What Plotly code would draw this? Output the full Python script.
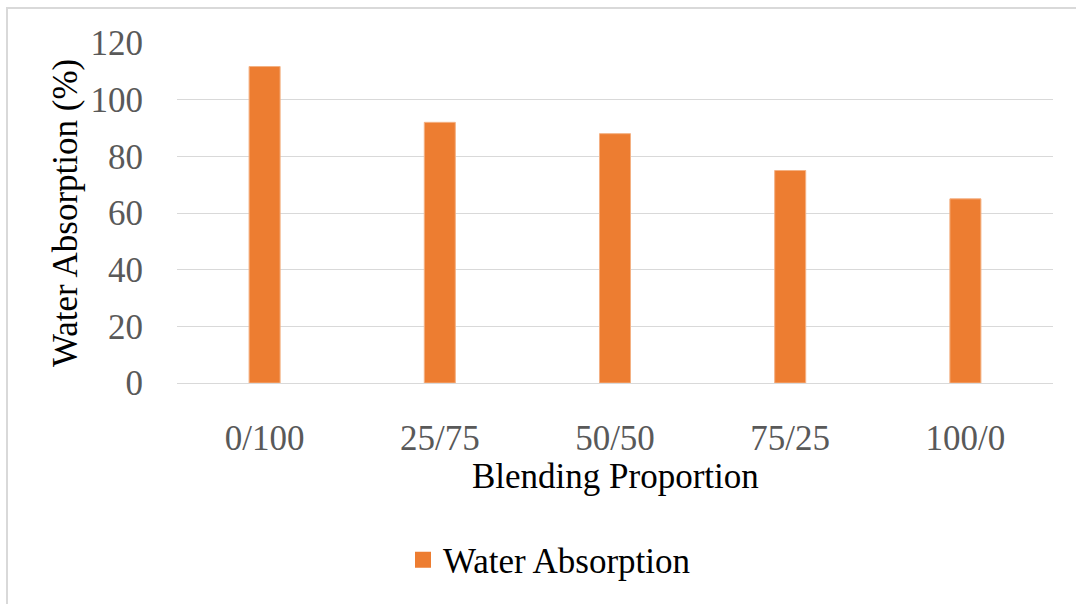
import plotly.graph_objects as go

# Water absorption by blending proportion
categories = ["0/100", "25/75", "50/50", "75/25", "100/0"]
water_absorption = [111.7, 92, 88, 75, 65]
y_ticks = [0, 20, 40, 60, 80, 100, 120]

ORANGE = "#ED7D31"
GRID = "#D9D9D9"
TICK_GRAY = "#595959"
FONT = "Liberation Serif, Times New Roman, serif"

W, H = 1076, 604
L, R, T, B = 177, 23, 43, 221
plot_w = W - L - R
plot_h = H - T - B


def px_x(px):
    return (px - L) / plot_w


def px_y(py):
    return (H - B - py) / plot_h


fig = go.Figure()

fig.add_trace(go.Bar(
    x=categories,
    y=water_absorption,
    marker=dict(color=ORANGE, line=dict(color="#F4B183", width=1)),
    showlegend=False,
    name="Water Absorption",
))

# legend entry with a square swatch
fig.add_trace(go.Scatter(
    x=[None], y=[None],
    mode="markers",
    marker=dict(symbol="square", size=18, color=ORANGE),
    name="Water Absorption",
    showlegend=True,
))

fig.update_layout(
    width=W, height=H,
    margin=dict(l=L, r=R, t=T, b=B),
    paper_bgcolor="white",
    plot_bgcolor="white",
    font=dict(family=FONT, size=35, color=TICK_GRAY),
    bargap=0.823,
    xaxis=dict(
        type="category",
        showgrid=False,
        showline=True, linecolor=GRID, linewidth=1,
        ticks="outside", ticklen=24, tickcolor="rgba(0,0,0,0)",
        tickfont=dict(family=FONT, size=35, color=TICK_GRAY),
        fixedrange=True,
    ),
    yaxis=dict(
        range=[0, 120],
        tickvals=y_ticks,
        showgrid=True, gridcolor=GRID, gridwidth=1,
        zeroline=True, zerolinecolor=GRID, zerolinewidth=1,
        showline=False,
        ticks="outside", ticklen=26, tickcolor="rgba(0,0,0,0)",
        tickfont=dict(family=FONT, size=35, color=TICK_GRAY),
        fixedrange=True,
    ),
    showlegend=True,
    legend=dict(
        orientation="h",
        xref="container", yref="container",
        x=403 / W, xanchor="left",
        y=1 - 560 / H, yanchor="middle",
        font=dict(family=FONT, size=35, color="black"),
        bgcolor="rgba(0,0,0,0)",
        itemsizing="trace",
    ),
    annotations=[
        dict(
            text="Water Absorption (%)",
            xref="paper", yref="paper",
            x=px_x(65), y=px_y(213),
            xanchor="center", yanchor="middle",
            textangle=-90, showarrow=False,
            font=dict(family=FONT, size=35, color="black"),
        ),
        dict(
            text="Blending Proportion",
            xref="paper", yref="paper",
            x=px_x(615), y=px_y(477),
            xanchor="center", yanchor="middle",
            showarrow=False,
            font=dict(family=FONT, size=35, color="black"),
        ),
    ],
    shapes=[
        dict(
            type="rect", xref="paper", yref="paper",
            x0=px_x(7), x1=px_x(1090), y0=px_y(620), y1=px_y(8),
            line=dict(color=GRID, width=2),
            fillcolor="rgba(0,0,0,0)",
            layer="below",
        ),
    ],
)

fig.write_html("out.html")
